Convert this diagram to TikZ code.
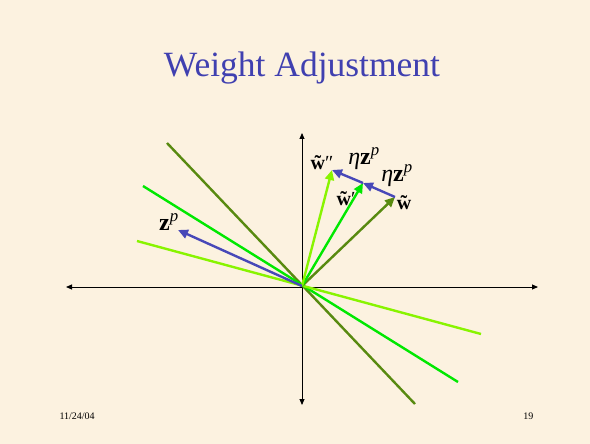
\documentclass[tikz,border=0pt]{standalone}
\usepackage{fontspec}
\setmainfont{Liberation Serif}
\usetikzlibrary{arrows.meta}
\definecolor{bgcol}{RGB}{252,242,224}
\definecolor{titleblue}{RGB}{64,64,176}
\definecolor{olive}{RGB}{88,138,16}
\definecolor{brightgreen}{RGB}{0,232,0}
\definecolor{lime}{RGB}{136,244,0}
\definecolor{arrowblue}{RGB}{72,72,184}
\newcommand{\wt}{\textbf{\ooalign{w\cr\hidewidth\char"02DC\hidewidth\cr}}}
\newcommand{\ezp}{\textit{η}\textbf{z}\textsuperscript{\textit{p}}}
\tikzset{
  axis/.style={black, line width=0.9pt, {Triangle[length=6pt,width=5pt]}-{Triangle[length=6pt,width=5pt]}},
  colline/.style={line width=2.4pt},
  vec/.style={line width=2.4pt, -{Triangle[length=10pt,width=9pt]}},
  lbl/.style={inner sep=0pt, font=\fontsize{20}{22}\selectfont},
  biglbl/.style={inner sep=0pt, font=\fontsize{24}{26}\selectfont},
}
\begin{document}
\begin{tikzpicture}[x=1pt,y=-1pt]
\fill[bgcol] (0,0) rectangle (590,444);
\useasboundingbox (0,0) rectangle (590,444);
\node[titleblue, font=\fontsize{35.5}{40}\selectfont] (title) at (302,68) {Weight Adjustment};
\node[font=\fontsize{10}{12}\selectfont, anchor=west] (date) at (56,416) {11/24/04};
\node[font=\fontsize{10}{12}\selectfont, anchor=east] (page) at (537,416) {19};
% axes
\coordinate (O) at (302,286);
\coordinate (xl) at (66,287);
\coordinate (xr) at (538,287);
\coordinate (yt) at (302,133);
\coordinate (yb) at (302,405);
\draw[axis] (xl) -- (xr);
\draw[axis] (yt) -- (yb);
% lines through origin
\coordinate (a1) at (167,143); \coordinate (a2) at (415,404);
\coordinate (b1) at (143,186); \coordinate (b2) at (458,382);
\coordinate (c1) at (137,241); \coordinate (c2) at (481,334);
\draw[colline, olive] (a1) -- (a2);
\draw[colline, brightgreen] (b1) -- (b2);
\draw[colline, lime] (c1) -- (c2);
% vectors
\coordinate (w) at (395,197);
\coordinate (w1) at (363,183);
\coordinate (w2) at (332,170);
\coordinate (zp) at (178,230);
\draw[vec, olive] (O) -- (w);
\draw[vec, brightgreen] (O) -- (w1);
\draw[vec, lime] (O) -- (w2);
\draw[vec, arrowblue] (w) -- (w1);
\draw[vec, arrowblue] (w1) -- (w2);
\draw[vec, arrowblue] (O) -- (zp);
% labels
\node[lbl] (lw2) at (322,163) {\wt″};
\node[biglbl] (le1) at (364,159) {\ezp};
\node[biglbl] (le2) at (397,176) {\ezp};
\node[lbl] (lw1) at (346,199) {\wt′};
\node[lbl] (lw) at (404,205) {\wt};
\node[biglbl] (lz) at (169,222) {\textbf{z}\textsuperscript{\textit{p}}};
\end{tikzpicture}
\end{document}
